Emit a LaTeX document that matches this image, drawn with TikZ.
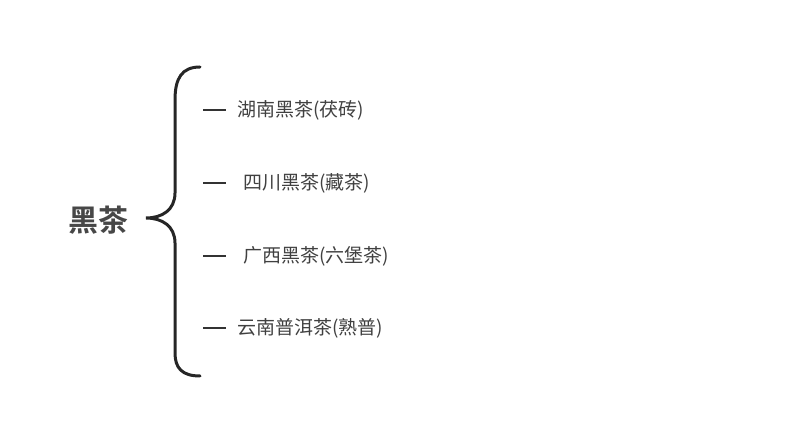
\documentclass[tikz,border=0pt]{standalone}
\usepackage{fontspec}
\newfontfamily\cjk{Noto Sans CJK SC}
\newfontfamily\cjkb{Noto Sans CJK SC Bold}
\begin{document}
\begin{tikzpicture}[x=1pt,y=-1pt,
  item/.style={anchor=west,inner sep=0pt,text=black!75,font=\cjk\fontsize{19}{21}\selectfont},
  dashline/.style={line width=2pt,black!80}]
\useasboundingbox (0,0) rectangle (790,430);
\node[inner sep=0pt,text=black!72,font=\cjkb\fontsize{30}{32}\selectfont] (root) at (98,220) {黑茶};
\draw[line width=3pt,black!85,line cap=round] (200,67) .. controls (182,67) and (175,78) .. (175,100) -- (175,193) .. controls (175,210) and (162,218) .. (146,218) .. controls (162,218) and (175,226) .. (175,243) -- (175,353) .. controls (175,368) and (182,376) .. (200,376);
\foreach \y/\x/\t/\n in {110/237/湖南黑茶(茯砖)/a, 183/243/四川黑茶(藏茶)/b, 256/243/广西黑茶(六堡茶)/c, 328/237/云南普洱茶(熟普)/d}{
  \node[item] (\n) at (\x,\y) {\t};
  \coordinate (s\n) at (203,\y);
  \coordinate (e\n) at (226,\y);
  \draw[dashline] (s\n) -- (e\n);
}
\end{tikzpicture}
\end{document}
